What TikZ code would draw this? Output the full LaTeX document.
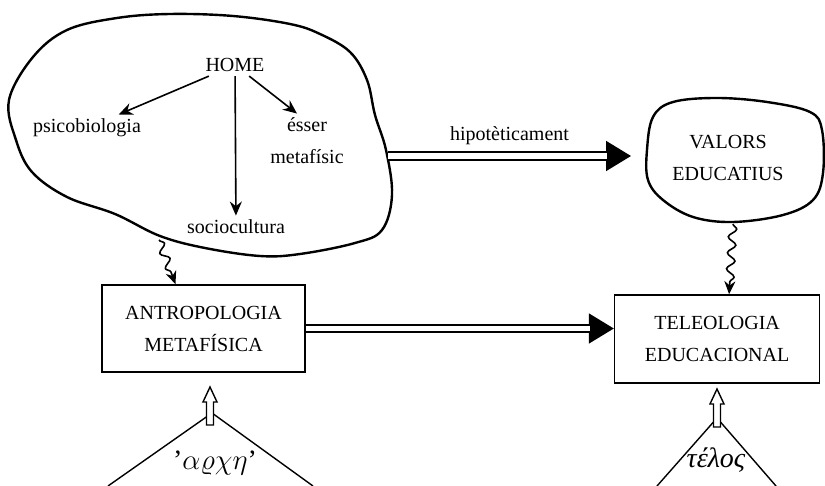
\documentclass[tikz,border=0pt]{standalone}
\usepackage{fontspec}
\setmainfont{Liberation Serif}
\usetikzlibrary{arrows.meta, positioning, calc, decorations.pathmorphing}

\begin{document}
\begin{tikzpicture}[
    x=0.5pt, y=-0.5pt,
    font=\fontsize{10}{16}\selectfont,
    >=Stealth,
    blob/.style={draw, line width=1.2pt, line join=round},
    concept/.style={align=center, inner sep=2pt},
    box/.style={rectangle, draw, line width=0.8pt, minimum width=101.5pt, minimum height=43.5pt, align=center},
    thinarrow/.style={-{Stealth[length=7pt, width=6pt]}, line width=0.8pt},
    wavy/.style={-{Stealth[length=6.5pt, width=5.5pt]}, line width=0.8pt, decorate, decoration={snake, amplitude=2pt, segment length=8pt, post length=6pt}},
    bigtip/.style={-{Triangle[length=12.5pt, width=15pt]}, line width=0.9pt},
    twoline/.style={double, double distance=2.8pt, line width=0.9pt, shorten >=12pt},
    greek/.style={font=\fontsize{14}{16}\selectfont},
    hollowup/.pic={
        \draw[line width=0.7pt, fill=white] (-1.75pt,0pt) -- (-1.75pt,11.5pt) -- (-3.5pt,11.5pt) -- (0pt,19pt)
            -- (3.5pt,11.5pt) -- (1.75pt,11.5pt) -- (1.75pt,0pt) -- cycle;
    },
]
    \useasboundingbox (0,0) rectangle (825,486);

    % Clouds
    \draw[blob] plot[smooth cycle, tension=0.6] coordinates {
        (9,100) (33,57) (67,30) (117,18) (170,14) (233,16) (290,24) (320,34) (350,52) (367,80)
        (375,115) (386,150) (392,195) (382,230) (355,243) (300,254) (260,256) (205,248)
        (160,236) (115,214) (67,197) (32,172) (16,140)};
    \draw[blob] plot[smooth cycle, tension=0.6] coordinates {
        (647,150) (653,117) (673,102) (717,98) (767,102) (810,112) (822,130) (823,173)
        (813,200) (783,215) (733,222) (693,217) (663,200) (648,180)};
    \coordinate (homeE) at (388,156);
    \coordinate (homeS) at (159,240);
    \coordinate (valS) at (733,224);
    \coordinate (hipEnd) at (631,156);

    % Inside the HOME cloud
    \node[concept] (home) at (235,65) {HOME};
    \node[concept] (psico) at (87,128) {psicobiologia};
    \node[concept] (esser) at (307,141) {ésser\\metafísic};
    \node[concept] (socio) at (236,227) {sociocultura};
    \draw[thinarrow] (home) -- (psico);
    \draw[thinarrow] (home) -- ([xshift=-5pt]esser.north);
    \draw[thinarrow] (home) -- (socio);

    \node[concept] (valors) at (728,158) {VALORS\\EDUCATIUS};

    % Boxes
    \node[box] (antro) at (203.5,328.5) {ANTROPOLOGIA\\METAFÍSICA};
    \node[box, right=154pt of antro, yshift=-5.25pt, minimum width=102.5pt, minimum height=44pt] (teleo) {TELEOLOGIA\\EDUCACIONAL};

    % Double arrows
    \draw[bigtip] (homeE) -- (hipEnd);
    \draw[twoline] (homeE) -- node[above=2pt] (hipo) {hipotèticament} (hipEnd);
    \draw[bigtip] (antro.east) -- (antro.east -| teleo.west);
    \draw[twoline] (antro.east) -- (antro.east -| teleo.west);

    % Wavy arrows
    \draw[wavy] (homeS) -- ([xshift=-14pt]antro.north);
    \draw[wavy] (valS) -- ([xshift=6pt]teleo.north);

    % Triangles
    \coordinate (archA) at (212,413);
    \coordinate (telosA) at (717,418);
    \draw[line width=0.7pt] (108,486) -- (archA) -- (313,486);
    \draw[line width=0.7pt] (657,486) -- (telosA) -- (776,486);
    \pic at (210,425) {hollowup};
    \pic at (717,427) {hollowup};
    \node[greek] (arche) at (215,463) {’$\alpha\varrho\chi\eta$’};
    \node[greek, font=\fontsize{14}{16}\selectfont\itshape] (telos) at (716,460) {τέλος};
\end{tikzpicture}
\end{document}
